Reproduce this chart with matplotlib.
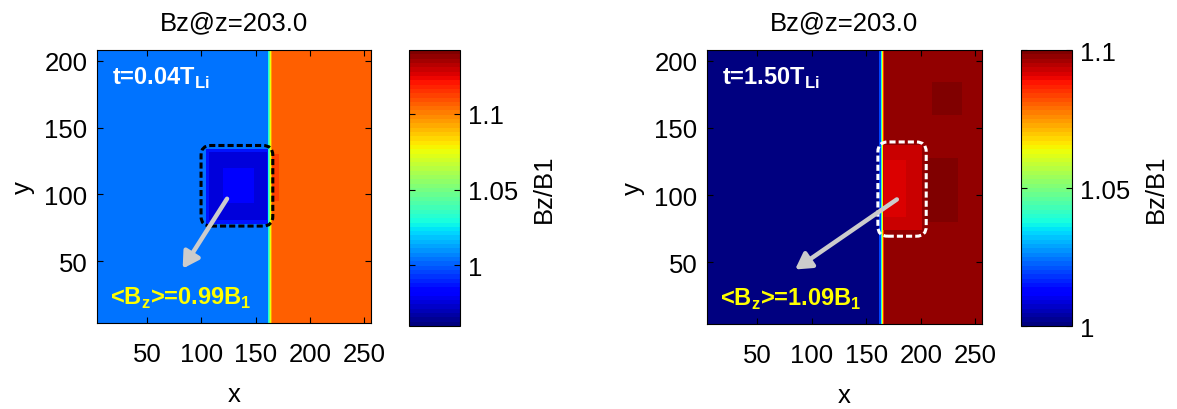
import numpy as np
import matplotlib
matplotlib.use("Agg")
import matplotlib.pyplot as plt
from matplotlib.patches import FancyBboxPatch

plt.rcParams['font.family'] = ['Liberation Sans', 'DejaVu Sans']
plt.rcParams['mathtext.fontset'] = 'custom'
plt.rcParams['mathtext.rm'] = 'Liberation Sans'
plt.rcParams['mathtext.bf'] = 'Liberation Sans:bold'

# simulation slice extent
x_lim = (4, 256)
y_lim = (4, 208)
x_ticks = [50, 100, 150, 200, 250]
y_ticks = [50, 100, 150, 200]

# left panel: t = 0.04 T_Li
left_time = '0.04'
left_mean = '0.99'
left_clim = (0.96, 1.142)
left_cticks = [1.0, 1.05, 1.1]
left_cticklabels = ['1', '1.05', '1.1']
left_upstream = 1.003
left_downstream = 1.107
left_shock_edges = [161, 162, 163, 164, 165]
left_shock_vals = [1.03, 1.05, 1.075, 1.095]
# x0, x1, y0, y1, Bz/B1
left_patches = [
    (104, 161, 78, 134, 0.987),
    (107, 160, 81, 132, 0.977),
    (120, 148, 94, 120, 0.980),
    (165, 171, 95, 130, 1.111),
]

# right panel: t = 1.50 T_Li
right_time = '1.50'
right_mean = '1.09'
right_clim = (1.0, 1.1)
right_cticks = [1.0, 1.05, 1.1]
right_cticklabels = ['1', '1.05', '1.1']
right_upstream = 1.001
right_downstream = 1.0975
right_shock_edges = [162, 163, 164, 165, 166]
right_shock_vals = [1.02, 1.04, 1.065, 1.085]
right_patches = [
    (165, 201, 74, 137, 1.093),
    (166, 186, 84, 126, 1.0915),
    (205, 234, 80, 128, 1.1005),
    (210, 238, 160, 184, 1.1005),
]

cmap = matplotlib.colormaps['jet'].resampled(64)
FS = 18.5
FS_NOTE = 17


def build_field(up, down, shock_edges, shock_vals, patches):
    xe = np.arange(x_lim[0], x_lim[1] + 1)
    ye = np.arange(y_lim[0], y_lim[1] + 1)
    xc = xe[:-1] + 0.5
    yc = ye[:-1] + 0.5
    field = np.full((len(yc), len(xc)), up)
    field[:, xc > shock_edges[-1]] = down
    for x0, x1, v in zip(shock_edges[:-1], shock_edges[1:], shock_vals):
        field[:, (xc > x0) & (xc < x1)] = v
    for x0, x1, y0, y1, v in patches:
        field[np.ix_((yc > y0) & (yc < y1), (xc > x0) & (xc < x1))] = v
    return xe, ye, field


def draw_panel(ax, cax, field_args, clim, cticks, cticklabels, time, mean,
               box, box_color, arrow):
    xe, ye, field = build_field(*field_args)
    mesh = ax.pcolormesh(xe, ye, field, cmap=cmap, vmin=clim[0], vmax=clim[1],
                         shading='flat', rasterized=True)
    ax.set_xlim(x_lim)
    ax.set_ylim(y_lim)
    ax.set_xticks(x_ticks)
    ax.set_yticks(y_ticks)
    ax.tick_params(direction='in', top=True, right=True, length=4, width=0.8,
                   labelsize=FS)
    ax.tick_params(axis='x', pad=14)
    ax.tick_params(axis='y', pad=7)
    for s in ax.spines.values():
        s.set_linewidth(0.8)
    ax.set_title('Bz@z=203.0', fontsize=FS, pad=15)
    ax.set_xlabel('x', fontsize=FS, va='center')
    ax.set_ylabel('y', fontsize=FS, va='center')
    ax.xaxis.set_label_coords(0.5, -0.26)
    ax.yaxis.set_label_coords(-0.27, 0.5)

    ax.text(18, 183, 't=' + time + r'T$_{\mathbf{Li}}$', color='white',
            fontsize=FS_NOTE, fontweight='bold')
    ax.text(16, 18.5, r'<B$_{\mathbf{z}}$>=' + mean + r'B$_{\mathbf{1}}$',
            color='yellow', fontsize=FS_NOTE, fontweight='bold')

    x0, x1, y0, y1 = box
    ax.add_patch(FancyBboxPatch((x0, y0), x1 - x0, y1 - y0,
                                boxstyle='round,pad=0,rounding_size=9',
                                mutation_aspect=0.81, fill=False,
                                edgecolor=box_color, lw=2.2,
                                linestyle=(0, (2, 1))))
    ax.annotate('', xy=arrow[1], xytext=arrow[0],
                arrowprops=dict(arrowstyle='-|>,head_length=0.95,head_width=0.55',
                                color='#cccccc', lw=3.2, shrinkA=0, shrinkB=0))

    cb = plt.colorbar(mesh, cax=cax)
    cb.set_ticks(cticks)
    cb.set_ticklabels(cticklabels)
    cb.outline.set_linewidth(0.8)
    cax.tick_params(direction='in', left=True, right=True, length=4,
                    width=0.8, labelsize=FS, pad=6)
    cb.set_label('Bz/B1', fontsize=FS, va='center')
    cax.yaxis.set_label_coords(2.65, 0.5)


fig = plt.figure(figsize=(11.77, 4.10), dpi=100)
ax1 = fig.add_axes([0.0824, 0.2098, 0.2328, 0.666])
cax1 = fig.add_axes([0.3475, 0.2024, 0.0433, 0.673])
ax2 = fig.add_axes([0.6007, 0.2073, 0.2336, 0.668])
cax2 = fig.add_axes([0.8675, 0.2024, 0.0433, 0.673])

draw_panel(ax1, cax1,
           (left_upstream, left_downstream, left_shock_edges, left_shock_vals, left_patches),
           left_clim, left_cticks, left_cticklabels, left_time, left_mean,
           (99.7, 165.7, 76.4, 136.6), 'black',
           ((123.6, 96.8), (82.8, 44.6)))
draw_panel(ax2, cax2,
           (right_upstream, right_downstream, right_shock_edges, right_shock_vals, right_patches),
           right_clim, right_cticks, right_cticklabels, right_time, right_mean,
           (160.6, 204.9, 69.4, 139.6), 'white',
           ((178, 96.8), (84.7, 44.6)))

fig.savefig('out.png', dpi=100)
